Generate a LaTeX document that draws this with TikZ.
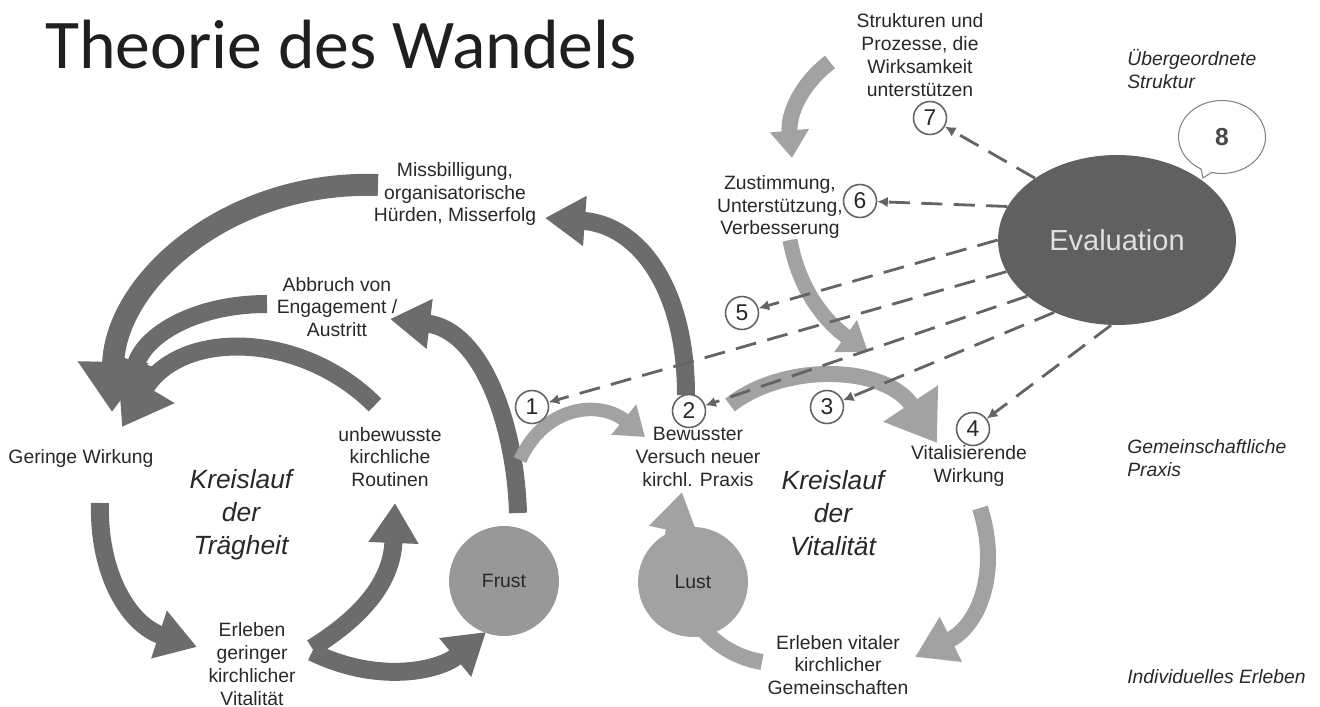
\documentclass[tikz,border=0pt]{standalone}
\usepackage{fontspec}
\setmainfont{Liberation Sans}
\newfontfamily\titlefont{Carlito}
\usepackage{xcolor}
\usetikzlibrary{arrows.meta}
\usetikzlibrary{shapes.geometric}
\usetikzlibrary{shapes.callouts}

\definecolor{txtgray}{RGB}{40,40,40}
\definecolor{banddark}{RGB}{108,108,108}
\definecolor{bandlight}{RGB}{162,162,162}
\definecolor{evalgray}{RGB}{96,96,96}
\definecolor{dashgray}{RGB}{100,100,100}
\definecolor{frustgray}{RGB}{152,152,152}
\definecolor{lustgray}{RGB}{162,162,162}

\newcommand{\lblfont}{\fontsize{11}{13}\selectfont}
\newcommand{\cycfont}{\fontsize{15}{18.7}\selectfont\itshape}
\newcommand{\numfont}{\fontsize{13}{13}\selectfont}

\tikzset{
  lbl/.style={font=\lblfont, text=txtgray, align=center, inner sep=0pt},
  side/.style={font=\lblfont\itshape, text=txtgray, align=left, anchor=west, inner sep=0pt},
  cyc/.style={font=\cycfont, text=txtgray, align=center, inner sep=0pt},
  numc/.style={circle, draw=dashgray, line width=0.9pt, fill=white, minimum size=0.66cm, inner sep=0pt, font=\numfont, text=txtgray},
  feel/.style={circle, minimum size=2.2cm, inner sep=0pt, font=\lblfont, text=txtgray},
  darkband/.style={draw=banddark, line width=0.36cm},
  lightband/.style={draw=bandlight, line width=0.32cm},
  bighd/.style={-{Triangle[width=1.25cm,length=0.95cm]}},
  midhd/.style={-{Triangle[width=0.95cm,length=0.8cm]}},
  smlhd/.style={-{Triangle[width=0.75cm,length=0.55cm]}},
  evdash/.style={draw=dashgray, line width=1.6pt, dash pattern=on 12pt off 6.5pt, -{Latex[length=6pt,width=6pt]}},
}

\begin{document}
\begin{tikzpicture}[x=0.02cm,y=-0.02cm]
\useasboundingbox (0,0) rectangle (1320,707);

\node[anchor=base west, inner sep=0pt, font=\titlefont\fontsize{39.7}{40}\selectfont, text=black!88] (title) at (45,68) {Theorie des Wandels};

% band ends
\coordinate (a1s) at (378,185);  \coordinate (a1e) at (112,412);
\coordinate (a2s) at (267,304);  \coordinate (a2e) at (125,400);
\coordinate (a3s) at (375,405);  \coordinate (a3e) at (122,427);
\coordinate (a4s) at (518,513);  \coordinate (a4e) at (390,319);
\coordinate (a5s) at (686,395);  \coordinate (a5e) at (545,218);
\coordinate (a6s) at (312,648);  \coordinate (a6e) at (395,503);
\coordinate (a7s) at (312,652);  \coordinate (a7e) at (486,632);
\coordinate (a8s) at (100,503);  \coordinate (a8e) at (197,647);
\coordinate (b1s) at (520,460);  \coordinate (b1e) at (645,437);
\coordinate (b2s) at (762,662);  \coordinate (b2e) at (682,492);
\coordinate (b3s) at (730,405);  \coordinate (b3e) at (937,443);
\coordinate (b4s) at (790,240);  \coordinate (b4e) at (868,352);
\coordinate (b5s) at (830,62);   \coordinate (b5e) at (792,158);
\coordinate (b6s) at (980,508);  \coordinate (b6e) at (915,657);

% Kreislauf der Traegheit
\draw[darkband, line width=0.44cm, -{Triangle[width=1.35cm,length=1cm]}] (a1s) .. controls (230,180) and (115,280) .. (a1e);
\draw[darkband, midhd] (a2s) .. controls (195,304) and (145,335) .. (a2e);
\draw[darkband, bighd] (a3s) .. controls (300,330) and (180,330) .. (a3e);
\draw[darkband, midhd] (a4s) .. controls (515,420) and (480,330) .. (a4e);
\draw[darkband, midhd] (a5s) .. controls (686,290) and (640,225) .. (a5e);
\draw[darkband, midhd] (a6s) .. controls (365,615) and (392,580) .. (a6e);
\draw[darkband, midhd] (a7s) .. controls (380,685) and (440,670) .. (a7e);
\draw[darkband, midhd] (a8s) .. controls (98,575) and (130,625) .. (a8e);

% Kreislauf der Vitalitaet
\draw[lightband, line width=0.27cm, smlhd] (b1s) .. controls (545,405) and (600,400) .. (b1e);
\draw[lightband, midhd] (b2s) .. controls (700,652) and (662,585) .. (b2e);
\draw[lightband, bighd] (b3s) .. controls (785,362) and (885,365) .. (b3e);
\draw[lightband, line width=0.3cm, smlhd] (b4s) .. controls (800,295) and (830,325) .. (b4e);
\draw[lightband, smlhd] (b5s) .. controls (800,85) and (788,115) .. (b5e);
\draw[lightband, midhd] (b6s) .. controls (1000,570) and (980,625) .. (b6e);

\node[feel, fill=frustgray] (frust) at (504,581) {Frust};
\node[feel, fill=lustgray] (lust) at (693,582) {Lust};

\node[ellipse, fill=evalgray, minimum width=4.76cm, minimum height=3.4cm, inner sep=0pt,
  font=\fontsize{16.5}{16.5}\selectfont, text=white!88!black] (eval) at (1117,240) {Evaluation};
\node[ellipse callout, draw=dashgray!80, line width=0.6pt, fill=white, minimum width=1.74cm,
  minimum height=1.46cm, callout absolute pointer={(1203,178)},
  font=\fontsize{14}{14}\selectfont\bfseries, text=txtgray!85] (eight) at (1222,137) {8};

\node[numc] (n1) at (532,407) {1};
\node[numc] (n2) at (689,411) {2};
\node[numc] (n3) at (827,407) {3};
\node[numc] (n4) at (973,429) {4};
\node[numc] (n5) at (742,313) {5};
\node[numc] (n6) at (860,201) {6};
\node[numc] (n7) at (930,118) {7};

\draw[evdash] (eval.143) -- (n7);
\draw[evdash] (eval.163) -- (n6);
\draw[evdash] (eval.180) -- (n5);
\draw[evdash] (eval.196) -- (n1);
\draw[evdash] (eval.212) -- (n2);
\draw[evdash] (eval.229) -- (n3);
\draw[evdash] (eval.266) -- (n4);

% labels
\node[lbl] (struk) at (920,55) {Strukturen und\\Prozesse, die\\Wirksamkeit\\unterstützen};
\node[side] (ueber) at (1127,69) {Übergeordnete\\Struktur};
\node[lbl] (miss) at (455,194) {Missbilligung,\\organisatorische\\Hürden, Misserfolg};
\node[lbl] (abbr) at (337,307) {Abbruch von\\Engagement /\\Austritt};
\node[lbl] (zust) at (780,207) {Zustimmung,\\Unterstützung,\\Verbesserung};
\node[lbl] (gering) at (81,458) {Geringe Wirkung};
\node[lbl] (routine) at (390,457) {unbewusste\\kirchliche\\Routinen};
\node[cyc] (kreisT) at (241,515) {Kreislauf\\der\\Trägheit};
\node[lbl] (erlebG) at (252,664) {Erleben\\geringer\\kirchlicher\\Vitalität};
\node[lbl] (bewusst) at (698,457) {Bewusster\\Versuch neuer\\kirchl. Praxis};
\node[cyc] (kreisV) at (833,513) {Kreislauf\\der\\Vitalität};
\node[lbl] (vital) at (969,466) {Vitalisierende\\Wirkung};
\node[lbl] (erlebV) at (838,665) {Erleben vitaler\\kirchlicher\\Gemeinschaften};
\node[side] (gemein) at (1127,458) {Gemeinschaftliche\\Praxis};
\node[side] (indiv) at (1127,677) {Individuelles Erleben};
\end{tikzpicture}
\end{document}
